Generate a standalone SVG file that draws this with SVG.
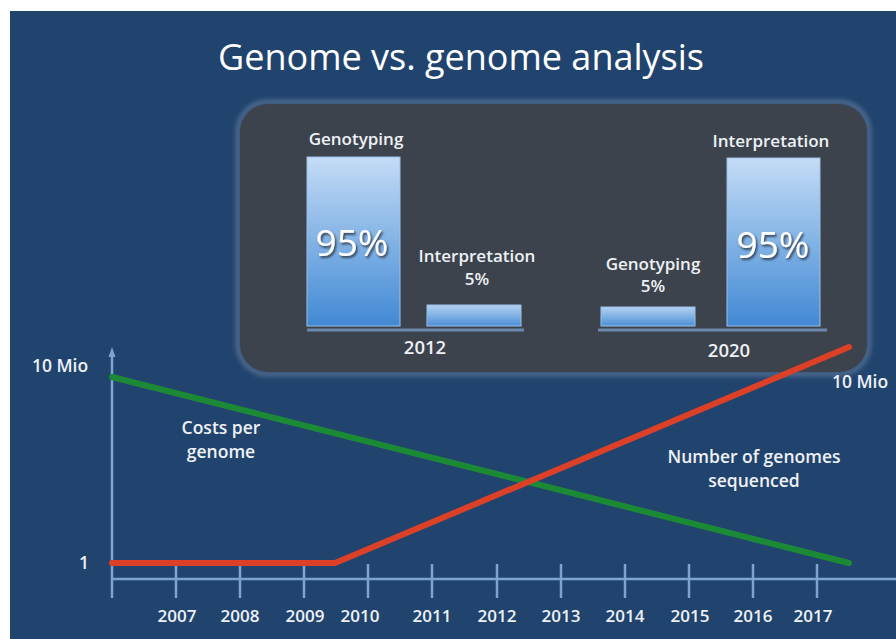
<svg xmlns="http://www.w3.org/2000/svg" width="896" height="639" viewBox="0 0 896 639">
  <defs>
    <linearGradient id="barGrad" x1="0" y1="0" x2="0" y2="1">
      <stop offset="0" stop-color="#c4dcf6"/>
      <stop offset="1" stop-color="#4189d4"/>
    </linearGradient>
    <linearGradient id="smallGrad" x1="0" y1="0" x2="0" y2="1">
      <stop offset="0" stop-color="#b4d2f2"/>
      <stop offset="1" stop-color="#4d8fd6"/>
    </linearGradient>
    <filter id="soft" x="-10%" y="-10%" width="120%" height="120%">
      <feGaussianBlur stdDeviation="0.6"/>
    </filter>
    <filter id="halo" x="-10%" y="-10%" width="120%" height="120%">
      <feGaussianBlur stdDeviation="2"/>
    </filter>
    <filter id="emboss" x="-20%" y="-20%" width="140%" height="150%">
      <feDropShadow dx="1.5" dy="2" stdDeviation="0.8" flood-color="#2a3442" flood-opacity="0.9"/>
    </filter>
  </defs>
  <style>
    .lbl { font-family: "Open Sans", "Liberation Sans", sans-serif; font-weight: 600; fill: #eef1f5; text-anchor: middle; }
    .title { font-family: "Open Sans", "Liberation Sans", sans-serif; font-weight: 400; fill: #ffffff; text-anchor: middle; font-size: 36px; }
    .big { font-family: "Open Sans", "Liberation Sans", sans-serif; font-weight: 400; fill: #ffffff; text-anchor: middle; font-size: 37px; }
    .axis { stroke: #7ea3cc; stroke-width: 2.5; fill: none; }
    .base { stroke: #6b88aa; stroke-width: 3; }
  </style>

  <!-- background -->
  <rect x="0" y="0" width="896" height="639" fill="#ffffff"/>
  <rect x="10" y="11" width="886" height="628" fill="#21446e"/>

  <g id="title">
    <text class="title" x="461" y="70">Genome vs. genome analysis</text>
  </g>

  <!-- inset panel -->
  <g id="panel">
    <rect x="238" y="102" width="631" height="272" rx="30" ry="30" fill="none" stroke="#4f6b8e" stroke-width="5" filter="url(#halo)"/>
    <rect x="240" y="104" width="627" height="268" rx="28" ry="28" fill="#3c434c"/>
  </g>

  <g id="bar2012">
    <rect x="307" y="157" width="93" height="169" fill="url(#barGrad)" stroke="#9cc0e8" stroke-width="1"/>
    <rect x="427" y="305" width="94" height="21" fill="url(#smallGrad)" stroke="#9cc0e8" stroke-width="1"/>
    <line class="base" x1="307" y1="330" x2="524" y2="330"/>
    <text class="lbl" x="356" y="145" font-size="17">Genotyping</text>
    <text class="big" x="352" y="256" filter="url(#emboss)">95%</text>
    <text class="lbl" x="477" y="262" font-size="17">Interpretation</text>
    <text class="lbl" x="477" y="285" font-size="17">5%</text>
    <text class="lbl" x="425" y="354" font-size="18.5">2012</text>
  </g>

  <g id="bar2020">
    <rect x="601" y="307" width="94" height="19" fill="url(#smallGrad)" stroke="#9cc0e8" stroke-width="1"/>
    <rect x="727" y="158" width="93" height="168" fill="url(#barGrad)" stroke="#9cc0e8" stroke-width="1"/>
    <line class="base" x1="598" y1="330" x2="827" y2="330"/>
    <text class="lbl" x="771" y="147" font-size="17">Interpretation</text>
    <text class="big" x="773" y="258" filter="url(#emboss)">95%</text>
    <text class="lbl" x="653" y="270" font-size="17">Genotyping</text>
    <text class="lbl" x="653" y="292" font-size="17">5%</text>
    <text class="lbl" x="729" y="357" font-size="18.5">2020</text>
  </g>

  <!-- axes -->
  <g id="axes">
    <line class="axis" x1="112" y1="598" x2="112" y2="354"/>
    <path d="M108.5,357 L112,347 L115.5,357 Z" fill="#7ea3cc"/>
    <line class="axis" x1="112" y1="579" x2="896" y2="579"/>
    <g class="axis">
      <line x1="176" y1="564" x2="176" y2="598"/>
      <line x1="240" y1="564" x2="240" y2="598"/>
      <line x1="304" y1="564" x2="304" y2="598"/>
      <line x1="368" y1="564" x2="368" y2="598"/>
      <line x1="432" y1="564" x2="432" y2="598"/>
      <line x1="497" y1="564" x2="497" y2="598"/>
      <line x1="561" y1="564" x2="561" y2="598"/>
      <line x1="625" y1="564" x2="625" y2="598"/>
      <line x1="689" y1="564" x2="689" y2="598"/>
      <line x1="753" y1="564" x2="753" y2="598"/>
      <line x1="817" y1="564" x2="817" y2="598"/>
    </g>
    <g font-size="17">
      <text class="lbl" x="177" y="622">2007</text>
      <text class="lbl" x="240" y="622">2008</text>
      <text class="lbl" x="305" y="622">2009</text>
      <text class="lbl" x="360" y="622">2010</text>
      <text class="lbl" x="432" y="622">2011</text>
      <text class="lbl" x="497" y="622">2012</text>
      <text class="lbl" x="561" y="622">2013</text>
      <text class="lbl" x="625" y="622">2014</text>
      <text class="lbl" x="690" y="622">2015</text>
      <text class="lbl" x="753" y="622">2016</text>
      <text class="lbl" x="813" y="622">2017</text>
    </g>
    <text class="lbl" x="60" y="372" font-size="17.5">10 Mio</text>
    <text class="lbl" x="84" y="569" font-size="17.5">1</text>
    <text class="lbl" x="860" y="388" font-size="17.5">10 Mio</text>
  </g>

  <!-- data lines -->
  <g id="connectors">
    <polyline points="112,377 849,563" fill="none" stroke="#1f8a36" stroke-width="6" stroke-linecap="round" filter="url(#soft)"/>
    <polyline points="112,563 335,563 849,347" fill="none" stroke="#dc3f26" stroke-width="6" stroke-linecap="round" stroke-linejoin="round" filter="url(#soft)"/>
  </g>

  <g id="legendCosts">
    <text class="lbl" x="221" y="434" font-size="17.5">Costs per</text>
    <text class="lbl" x="221" y="458" font-size="17.5">genome</text>
  </g>
  <g id="legendNumber">
    <text class="lbl" x="754" y="463" font-size="17.5">Number of genomes</text>
    <text class="lbl" x="754" y="487" font-size="17.5">sequenced</text>
  </g>
</svg>
